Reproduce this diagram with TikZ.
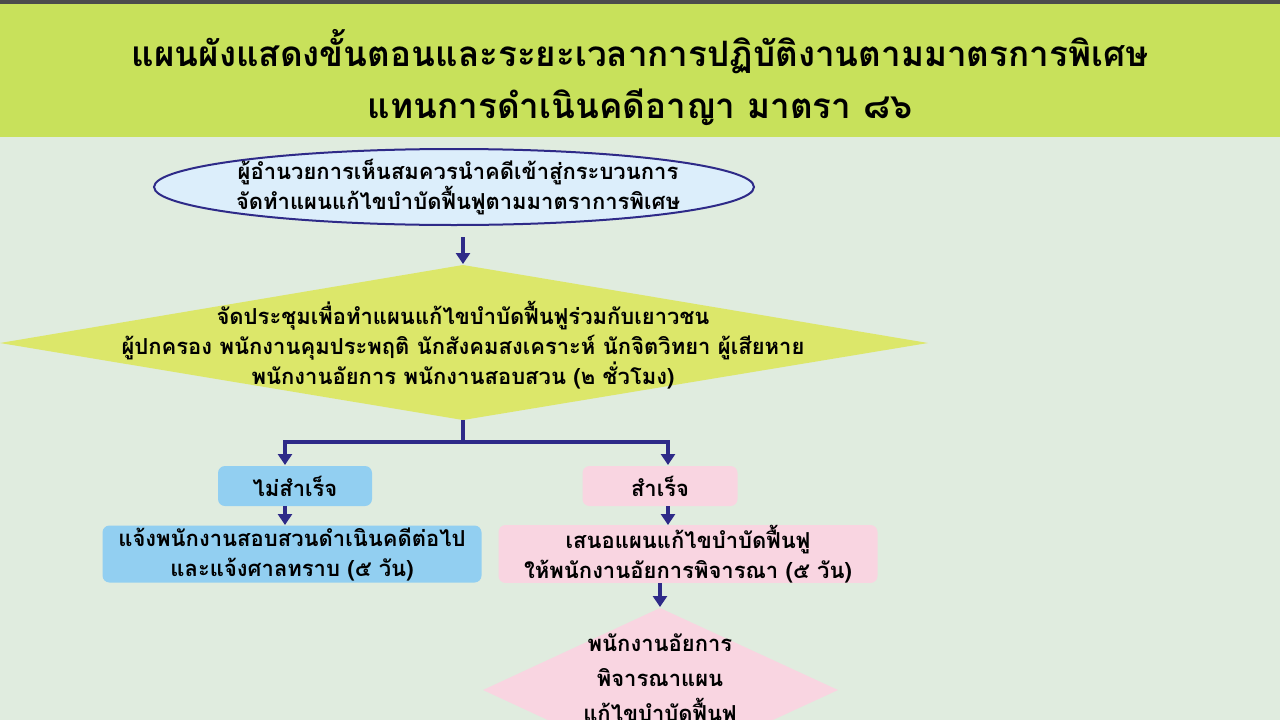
\documentclass[tikz,border=0pt]{standalone}
\usepackage{fontspec}
\setmainfont[Script=Thai]{Loma}
\usetikzlibrary{shapes.geometric,arrows.meta}
\definecolor{bg}{HTML}{E0ECDF}
\definecolor{band}{HTML}{C8E15B}
\definecolor{arr}{HTML}{2E2A88}
\definecolor{yel}{HTML}{DCE76A}
\definecolor{lblue}{HTML}{DCEEFB}
\definecolor{mblue}{HTML}{92CFF1}
\definecolor{pink}{HTML}{F9D5E1}
\tikzset{
 ar/.style={draw=arr,line width=4pt,-{Triangle[length=11pt,width=14pt]}},
 ln/.style={draw=arr,line width=4pt},
 txt/.style={font=\fontsize{22}{30}\selectfont\bfseries,align=center,text=black},
 box/.style={txt,rounded corners=7pt,minimum height=40pt,inner sep=0pt}
}
\begin{document}
\begin{tikzpicture}[x=1pt,y=-1pt]
\useasboundingbox (0,0) rectangle (1280,720);
\clip (0,0) rectangle (1280,720);
\fill[bg] (0,0) rectangle (1280,720);
\fill[band] (0,0) rectangle (1280,137);
\fill[black!70] (0,0) rectangle (1280,4);
\node[font=\fontsize{35}{52}\selectfont\bfseries,align=center] (title) at (640,78)
 {แผนผังแสดงขั้นตอนและระยะเวลาการปฏิบัติงานตามมาตรการพิเศษ\\แทนการดำเนินคดีอาญา มาตรา ๘๖};
\draw[draw=arr,line width=2pt,fill=lblue] (454,187) ellipse [x radius=300pt,y radius=38pt];
\node[txt] (e) at (458,187)
 {ผู้อำนวยการเห็นสมควรนำคดีเข้าสู่กระบวนการ\\จัดทำแผนแก้ไขบำบัดฟื้นฟูตามมาตราการพิเศษ};
\fill[yel] (0,343) -- (463,265) -- (928,343) -- (463,420) -- cycle;
\node[txt] (d1) at (463,345) {จัดประชุมเพื่อทำแผนแก้ไขบำบัดฟื้นฟูร่วมกับเยาวชน\\ผู้ปกครอง พนักงานคุมประพฤติ นักสังคมสงเคราะห์ นักจิตวิทยา ผู้เสียหาย\\พนักงานอัยการ พนักงานสอบสวน (๒ ชั่วโมง)};
\coordinate (d1t) at (463,264);
\coordinate (d1b) at (463,420);
\coordinate (eb) at (463,237);
\draw[ar] (eb) -- (d1t);
\coordinate (j) at (463,442);
\coordinate (jl) at (285,442);
\coordinate (jr) at (668,442);
\draw[ln] (d1b) -- (j);
\draw[ln] (283,442) -- (670,442);
\node[box,fill=mblue,minimum width=154pt] (f) at (295,486) {ไม่สำเร็จ};
\node[box,fill=pink,minimum width=155pt] (s) at (660,486) {สำเร็จ};
\draw[ar] (jl) -- (285,465);
\draw[ar] (jr) -- (668,465);
\node[box,fill=mblue,minimum width=379pt,minimum height=57pt] (fb) at (292,554) {แจ้งพนักงานสอบสวนดำเนินคดีต่อไป\\และแจ้งศาลทราบ (๕ วัน)};
\node[box,fill=pink,minimum width=379pt,minimum height=57pt] (sb) at (688,554) {เสนอแผนแก้ไขบำบัดฟื้นฟู\\ให้พนักงานอัยการพิจารณา (๕ วัน)};
\draw[ar] (285,506) -- (285,525);
\draw[ar] (668,506) -- (668,525);
\fill[pink] (483,690) -- (660,608) -- (838,690) -- (660,772) -- cycle;
\coordinate (d2t) at (660,607);
\draw[ar] (660,583) -- (d2t);
\node[txt,anchor=north,font=\fontsize{22}{35}\selectfont\bfseries] (d2) at (660,630) {พนักงานอัยการ\\พิจารณาแผน\\แก้ไขบำบัดฟื้นฟู};
\end{tikzpicture}
\end{document}
